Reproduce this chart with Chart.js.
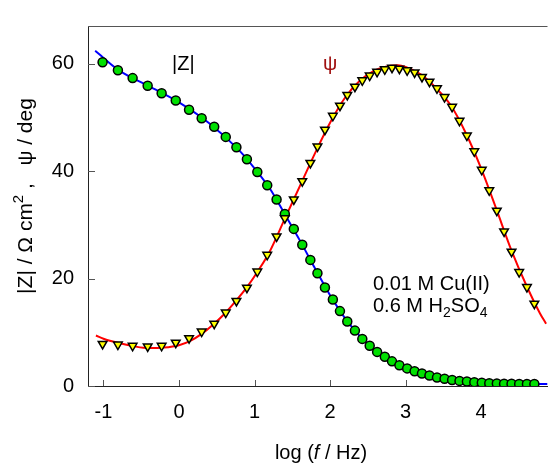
<!DOCTYPE html>
<html>
<head>
<meta charset="utf-8">
<script src="https://cdn.jsdelivr.net/npm/chart.js@4.4.1/dist/chart.umd.min.js"></script>
<style>
  html, body { margin: 0; padding: 0; background: #fff; }
</style>
</head>
<body>
<canvas id="chart" width="554" height="468"></canvas>
<script>
// measured frequencies (log f / Hz), shared by both series
const logF = [
  -1.012, -0.809, -0.614, -0.415, -0.230, -0.043, 0.133, 0.300, 0.466, 0.619,
  0.760, 0.899, 1.037, 1.168, 1.292, 1.401, 1.520, 1.632, 1.739, 1.833,
  1.932, 2.037, 2.131, 2.228, 2.329, 2.427, 2.525, 2.623, 2.725, 2.820,
  2.918, 3.021, 3.119, 3.217, 3.316, 3.416, 3.516, 3.616, 3.714, 3.812,
  3.910, 4.009, 4.108, 4.208, 4.304, 4.403, 4.504, 4.607, 4.705
];
// |Z| / ohm cm2
const zMod = [
  60.24, 58.76, 57.30, 55.89, 54.48, 53.12, 51.42, 49.83, 48.25, 46.36,
  44.42, 42.21, 39.83, 37.36, 34.71, 32.01, 29.24, 26.29, 23.47, 21.00,
  18.33, 16.09, 13.94, 12.00, 10.31, 8.77, 7.48, 6.35, 5.45, 4.59,
  3.86, 3.28, 2.74, 2.33, 1.94, 1.59, 1.36, 1.13, 0.95, 0.83,
  0.71, 0.60, 0.53, 0.48, 0.42, 0.41, 0.39, 0.39, 0.39
];
// psi / deg
const phase = [
  7.83, 7.71, 7.48, 7.36, 7.48, 8.06, 8.89, 10.13, 11.59, 13.66,
  15.83, 18.30, 21.30, 24.42, 27.83, 31.23, 34.71, 38.12, 41.52, 44.59,
  47.71, 50.29, 52.18, 54.17, 55.71, 56.89, 57.77, 58.48, 58.94, 59.24,
  59.06, 58.76, 58.36, 57.53, 56.63, 55.41, 53.77, 51.95, 49.36, 46.62,
  43.67, 40.23, 36.42, 32.63, 28.76, 25.00, 21.21, 18.42, 15.33
];

// fitted curves
const zFitX = [-1.11, -0.8, -0.4, 0, 0.4, 0.8, 1.0, 1.2, 1.4, 1.6, 1.8, 2.0, 2.2, 2.4, 2.6, 2.8, 3.0, 3.2, 3.4, 3.6, 3.8, 4.0, 4.2, 4.4, 4.6, 4.88];
const zFitY = [62.4, 58.8, 55.8, 52.8, 48.9, 43.8, 40.5, 36.8, 32.0, 27.1, 21.9, 16.9, 12.6, 9.2, 6.6, 4.8, 3.4, 2.4, 1.65, 1.15, 0.85, 0.62, 0.48, 0.42, 0.39, 0.37];
const phFitX = [-1.10, -1.0, -0.8, -0.6, -0.4, -0.2, 0.0, 0.15, 0.3, 0.45, 0.6, 0.75, 0.9, 1.05, 1.2, 1.4, 1.6, 1.8, 2.0, 2.2, 2.4, 2.6, 2.8, 2.9, 3.0, 3.2, 3.4, 3.6, 3.8, 4.0, 4.2, 4.4, 4.6, 4.78, 4.86];
const phFitY = [9.4, 8.8, 8.0, 7.4, 7.05, 7.15, 7.6, 8.4, 9.7, 11.4, 13.4, 15.8, 18.4, 21.5, 25.0, 31.1, 37.2, 43.3, 49.0, 53.7, 56.9, 58.8, 59.6, 59.7, 59.4, 58.0, 55.5, 52.2, 47.0, 40.5, 33.0, 25.3, 18.7, 13.5, 11.6];

const xTickValues = [-1, 0, 1, 2, 3, 4];
const yTickValues = [0, 20, 40, 60];

const FONT = "'Liberation Sans', Arial, sans-serif";

function toPoints(xs, ys) {
  return xs.map((x, i) => ({ x, y: ys[i] }));
}

function drawPieces(ctx, pieces, startX, baseY) {
  let x = startX;
  pieces.forEach((p) => {
    ctx.font = p.font;
    ctx.fillStyle = p.color || "#000";
    ctx.fillText(p.text, x, baseY + (p.dy || 0));
    x += ctx.measureText(p.text).width;
  });
}

function piecesWidth(ctx, pieces) {
  return pieces.reduce((w, p) => {
    ctx.font = p.font;
    return w + ctx.measureText(p.text).width;
  }, 0);
}

const decorPlugin = {
  id: "decor",
  beforeDatasetsDraw(chart) {
    const { ctx, chartArea, scales } = chart;
    ctx.save();
    ctx.strokeStyle = "#555";
    ctx.lineWidth = 1;
    // top frame line
    ctx.beginPath();
    ctx.moveTo(chartArea.left, chartArea.top + 0.5);
    ctx.lineTo(chartArea.right, chartArea.top + 0.5);
    ctx.stroke();
    // inward ticks
    yTickValues.forEach((v) => {
      const y = Math.round(scales.y.getPixelForValue(v)) + 0.5;
      ctx.beginPath();
      ctx.moveTo(chartArea.left, y);
      ctx.lineTo(chartArea.left + 7, y);
      ctx.stroke();
    });
    xTickValues.forEach((v) => {
      const x = Math.round(scales.x.getPixelForValue(v)) + 0.5;
      ctx.beginPath();
      ctx.moveTo(x, chartArea.bottom);
      ctx.lineTo(x, chartArea.bottom - 6);
      ctx.stroke();
    });
    ctx.restore();
  },
  afterDraw(chart) {
    const { ctx } = chart;
    const normal = `20px ${FONT}`;
    const small = `14px ${FONT}`;
    ctx.save();
    ctx.textBaseline = "alphabetic";
    ctx.textAlign = "left";

    // x axis title
    const xTitle = [
      { text: "log (", font: normal },
      { text: "f", font: `italic 20px ${FONT}` },
      { text: " / Hz)", font: normal },
    ];
    drawPieces(ctx, xTitle, 321 - piecesWidth(ctx, xTitle) / 2, 459);

    // y axis title (rotated)
    const yTitle = [
      { text: "|Z| / \u03A9 cm", font: `21px ${FONT}` },
      { text: "2", font: `15px ${FONT}`, dy: -9 },
      { text: " ,   \u03C8 / deg", font: `21px ${FONT}` },
    ];
    ctx.save();
    ctx.translate(32, 196);
    ctx.rotate(-Math.PI / 2);
    drawPieces(ctx, yTitle, -piecesWidth(ctx, yTitle) / 2, 0);
    ctx.restore();

    // curve labels
    drawPieces(ctx, [{ text: "|Z|", font: normal }], 172, 70);
    drawPieces(ctx, [{ text: "\u03C8", font: normal, color: "#a01010" }], 323, 70);

    // solution composition
    drawPieces(ctx, [{ text: "0.01 M Cu(II)", font: normal }], 373, 290);
    drawPieces(ctx, [
      { text: "0.6 M H", font: normal },
      { text: "2", font: small, dy: 5 },
      { text: "SO", font: normal },
      { text: "4", font: small, dy: 5 },
    ], 373, 312);
    ctx.restore();
  },
};

new Chart(document.getElementById("chart"), {
  type: "scatter",
  data: {
    datasets: [
      {
        label: "psi",
        data: toPoints(logF, phase),
        pointStyle: "triangle",
        rotation: 180,
        pointRadius: 5,
        pointBackgroundColor: "#ffff00",
        pointBorderColor: "#000",
        pointBorderWidth: 1.5,
        showLine: false,
        order: 1,
      },
      {
        label: "|Z|",
        data: toPoints(logF, zMod),
        pointStyle: "circle",
        pointRadius: 4.5,
        pointBackgroundColor: "#00e000",
        pointBorderColor: "#000",
        pointBorderWidth: 1.5,
        showLine: false,
        order: 2,
      },
      {
        label: "psi fit",
        data: toPoints(phFitX, phFitY),
        showLine: true,
        borderColor: "#ff0000",
        borderWidth: 2,
        pointRadius: 0,
        cubicInterpolationMode: "monotone",
        order: 3,
      },
      {
        label: "|Z| fit",
        data: toPoints(zFitX, zFitY),
        showLine: true,
        borderColor: "#0000ff",
        borderWidth: 2,
        pointRadius: 0,
        cubicInterpolationMode: "monotone",
        order: 4,
      },
    ],
  },
  options: {
    responsive: false,
    devicePixelRatio: 1,
    animation: false,
    layout: { padding: { top: 7, right: 0, left: 0, bottom: 0 } },
    plugins: {
      legend: { display: false },
      tooltip: { enabled: false },
    },
    scales: {
      x: {
        type: "linear",
        min: -1.205,
        max: 4.879,
        grid: { display: false, drawTicks: false },
        border: { display: true, color: "#222", width: 1 },
        ticks: { font: { family: FONT, size: 20 }, color: "#000", padding: 14, maxRotation: 0 },
        afterBuildTicks: (scale) => {
          scale.ticks = xTickValues.map((v) => ({ value: v }));
        },
        afterFit: (scale) => {
          scale.height = 82;
        },
      },
      y: {
        type: "linear",
        min: 0,
        max: 67,
        grid: { display: false, drawTicks: false },
        border: { display: true, color: "#222", width: 1 },
        ticks: { font: { family: FONT, size: 20 }, color: "#000", padding: 14 },
        afterBuildTicks: (scale) => {
          scale.ticks = yTickValues.map((v) => ({ value: v }));
        },
        afterFit: (scale) => {
          scale.width = 88;
        },
      },
    },
  },
  plugins: [decorPlugin],
});
</script>
</body>
</html>
